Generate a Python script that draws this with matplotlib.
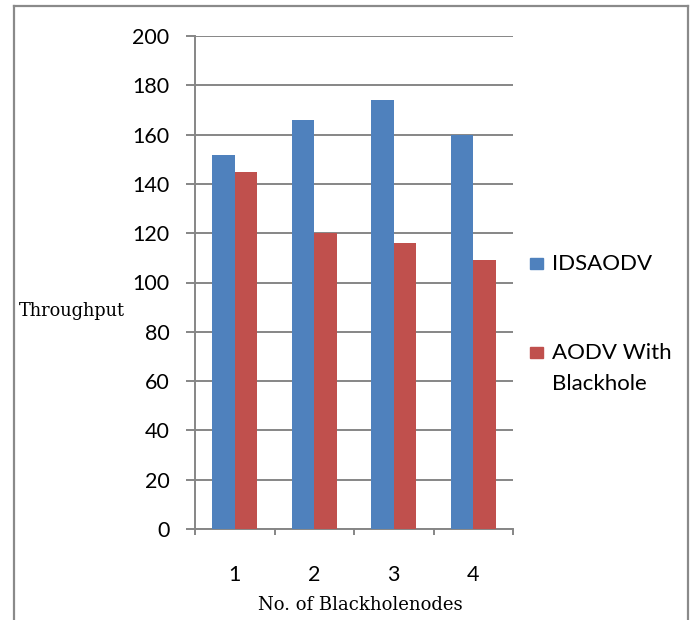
import numpy as np
import matplotlib
matplotlib.use('Agg')
from matplotlib import pyplot as plt
from matplotlib.lines import Line2D
from matplotlib.patches import Rectangle

nodes = ['1', '2', '3', '4']
idsaodv = [151.7, 166, 174, 160]
aodv_blackhole = [145, 120, 116, 109]
series_names = [['IDSAODV'], ['AODV With', 'Blackhole']]
series_colors = ['#4F81BD', '#C0504D']

grey = '#868686'
tickfont = 'Lato'
serif = 'DejaVu Serif'

fig = plt.figure(figsize=(6.96, 6.2), dpi=100)
ax = fig.add_axes([195/696, 1 - 529/620, 318/696, 493/620])

x = np.arange(len(nodes))
w = 0.285
ax.bar(x - w/2, idsaodv, w, color=series_colors[0], zorder=3)
ax.bar(x + w/2, aodv_blackhole, w, color=series_colors[1], zorder=3)

ax.set_xlim(-0.5, len(nodes) - 0.5)
ax.set_ylim(0, 200)
ax.set_yticks(range(0, 201, 20))
ax.yaxis.grid(True, color=grey, linewidth=1.4, zorder=0)
ax.set_axisbelow(True)

for s in ['top', 'right']:
    ax.spines[s].set_visible(False)
for s in ['left', 'bottom']:
    ax.spines[s].set_color(grey)
    ax.spines[s].set_linewidth(1.4)

ax.tick_params(axis='y', length=6.5, width=1.4, color=grey, pad=12,
               labelsize=15.5, labelfontfamily=tickfont)
ax.set_xticks(x)
ax.set_xticklabels(nodes)
ax.tick_params(axis='x', which='major', length=0, pad=26,
               labelsize=15.5, labelfontfamily=tickfont)
ax.set_xticks(np.arange(-0.5, len(nodes)), minor=True)
ax.tick_params(axis='x', which='minor', length=4.5, width=1.4, color=grey)

fig.text(19/696, 1 - 311/620, 'Throughput', ha='left', va='center',
         fontsize=12.8, family=serif)
fig.text(360/696, 1 - 605/620, 'No. of Blackholenodes', ha='center', va='center',
         fontsize=13, family=serif)

# legend: square aligned with the first line of each entry
for (lines, col, ytop) in zip(series_names, series_colors, [258, 347]):
    fig.add_artist(Rectangle((530/696, 1 - (ytop + 11)/620), 13/696, 11/620,
                             color=col, transform=fig.transFigure))
    for i, line in enumerate(lines):
        fig.text(552/696, 1 - (ytop + 5.5 + 32*i)/620, line, ha='left',
                 va='center', fontsize=16, family=tickfont)

# outer frame
for xs, ys in [((14, 14), (6, 620)), ((14, 688), (6, 6)), ((688, 688), (6, 620))]:
    fig.add_artist(Line2D([v/696 for v in xs], [1 - v/620 for v in ys],
                          color='#8a8a8a', linewidth=1.6))

fig.savefig('out.png', dpi=100)
